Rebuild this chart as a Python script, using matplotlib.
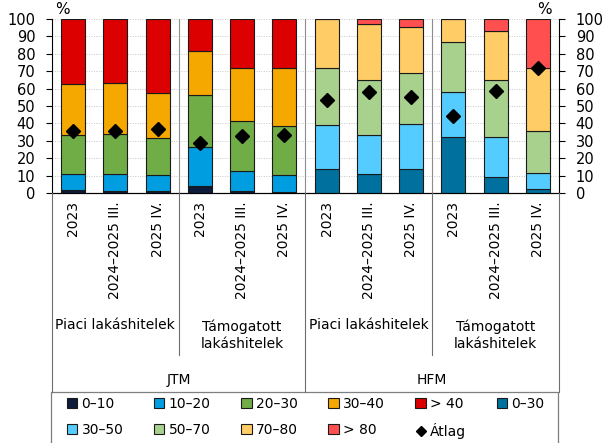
import matplotlib
matplotlib.use('agg')
import matplotlib.pyplot as plt
import matplotlib.transforms as mtransforms
from matplotlib.patches import Patch, Rectangle
from matplotlib.lines import Line2D

plt.rcParams['font.family'] = ['DejaVu Sans']

# category labels
periods = ["2023", "2024–2025 III.", "2025 IV."]
loan_types = ["Piaci lakáshitelek", "Támogatott\nlakáshitelek"]
indicators = ["JTM", "HFM"]

# JTM shares (%) by band, per bar: piaci x3, támogatott x3
jtm_labels = ["0–10", "10–20", "20–30", "30–40", "> 40"]
jtm_0_10 = [1.5, 1.0, 1.3, 4.2, 1.3, 0.6]
jtm_10_20 = [9.2, 9.7, 8.9, 22.3, 11.6, 9.8]
jtm_20_30 = [22.7, 23.1, 21.3, 30.1, 28.4, 28.2]
jtm_30_40 = [29.2, 29.2, 25.7, 25.2, 30.7, 33.0]
jtm_40 = [37.4, 37.0, 42.8, 18.2, 28.0, 28.4]
jtm_avg = [35.7, 35.5, 37.0, 28.8, 33.0, 33.4]

# HFM shares (%) by band
hfm_labels = ["0–30", "30–50", "50–70", "70–80", "> 80"]
hfm_0_30 = [14.0, 10.9, 14.0, 32.4, 9.2, 2.1]
hfm_30_50 = [24.8, 22.7, 25.9, 25.4, 22.7, 9.6]
hfm_50_70 = [33.2, 31.5, 28.8, 29.0, 32.8, 24.0]
hfm_70_80 = [28.0, 31.8, 26.9, 13.2, 28.2, 35.9]
hfm_80 = [0.0, 3.1, 4.4, 0.0, 7.1, 28.4]
hfm_avg = [53.6, 57.8, 54.9, 44.1, 58.9, 71.6]

jtm_colors = ["#0d1c3b", "#009ee0", "#70ad47", "#f5a800", "#dd0000"]
hfm_colors = ["#00719e", "#55ccff", "#a9d18e", "#ffcc66", "#ff4f4f"]

W, H = 603, 443
fig = plt.figure(figsize=(W / 100, H / 100), dpi=100)
ax = fig.add_axes([52 / W, 1 - 193 / H, 507 / W, 174 / H])

jtm_x = list(range(6))
hfm_x = list(range(6, 12))
edge = dict(edgecolor="#1a1a1a", linewidth=0.8, width=0.57, zorder=3)

bottom = [0.0] * 6
for vals, col in zip([jtm_0_10, jtm_10_20, jtm_20_30, jtm_30_40, jtm_40], jtm_colors):
    ax.bar(jtm_x, vals, bottom=bottom, color=col, **edge)
    bottom = [b + v for b, v in zip(bottom, vals)]

bottom = [0.0] * 6
for vals, col in zip([hfm_0_30, hfm_30_50, hfm_50_70, hfm_70_80, hfm_80], hfm_colors):
    ax.bar(hfm_x, vals, bottom=bottom, color=col, **edge)
    bottom = [b + v for b, v in zip(bottom, vals)]

ax.plot(jtm_x + hfm_x, jtm_avg + hfm_avg, linestyle="none", marker="D",
        markersize=7, color="black", zorder=5)

ax.set_xlim(-0.5, 11.5)
ax.set_ylim(0, 100)
ax.set_yticks(range(0, 101, 10))
for y in range(10, 101, 10):
    ax.axhline(y, color="#c8c8c8", linewidth=0.7, linestyle=(0, (1, 1.5)), zorder=1)
for xs in [2.5, 5.5, 8.5]:
    ax.axvline(xs, color="#8c8c8c", linewidth=0.8, zorder=1)

ax.set_xticks(range(12))
ax.set_xticklabels(periods * 4, rotation=90, fontsize=10)
ax.tick_params(axis="x", length=0, pad=6)
ax.tick_params(axis="y", direction="out", length=4, width=0.8, pad=8, labelsize=10.5)
ax.spines["top"].set_visible(False)
ax.spines["right"].set_visible(False)

ax2 = ax.twinx()
ax2.set_ylim(0, 100)
ax2.set_yticks(range(0, 101, 10))
ax2.tick_params(axis="y", direction="out", length=4, width=0.8, pad=8, labelsize=10.5)
ax2.spines["top"].set_visible(False)
ax2.spines["left"].set_visible(False)

fig.text(62 / W, 1 - 10 / H, "%", ha="center", va="center", fontsize=11)
fig.text(544 / W, 1 - 9 / H, "%", ha="center", va="center", fontsize=11)

# multi-level category axis below the plot
tr = mtransforms.blended_transform_factory(ax.transData, fig.transFigure)
sep = "#6e6e6e"
for xs in [-0.5, 5.5, 11.5]:
    fig.add_artist(Line2D([xs, xs], [1 - 193 / H, 1 - 392 / H], transform=tr,
                          color=sep, linewidth=0.8))
for xs in [2.5, 8.5]:
    fig.add_artist(Line2D([xs, xs], [1 - 193 / H, 1 - 355 / H], transform=tr,
                          color=sep, linewidth=0.8))

for i, name in enumerate(loan_types * 2):
    cx = 1 + 3 * i
    cy = 325 if "\n" not in name else 335
    fig.text(cx, 1 - cy / H, name, transform=tr, ha="center", va="center",
             fontsize=10, linespacing=1.3)
for i, name in enumerate(indicators):
    fig.text(2.5 + 6 * i, 1 - 380 / H, name, transform=tr, ha="center",
             va="center", fontsize=10)

# legend box and entries
fig.add_artist(Rectangle((51 / W, -0.05), 507 / W, 0.05 + 1 - 392 / H,
                         transform=fig.transFigure, facecolor="none",
                         edgecolor="#7f7f7f", linewidth=0.9))

handles = [Patch(facecolor=c, edgecolor="#1a1a1a", linewidth=0.8) for c in jtm_colors + hfm_colors]
labels = jtm_labels + hfm_labels
handles.append(Line2D([], [], linestyle="none", marker="D", markersize=5.5, color="black"))
labels.append("Átlag")
order = [0, 6, 1, 7, 2, 8, 3, 9, 4, 10, 5]
fig.legend([handles[i] for i in order], [labels[i] for i in order],
           loc="upper left", bbox_to_anchor=(67 / W, 1 - 397 / H), ncol=6,
           frameon=False, fontsize=10, handlelength=0.75, handleheight=0.75,
           handletextpad=0.3, columnspacing=2.2, labelspacing=0.85,
           borderpad=0, borderaxespad=0)

fig.savefig("out.png", dpi=100)
